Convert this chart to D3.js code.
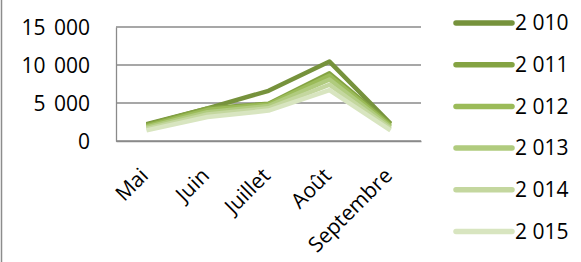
<!DOCTYPE html>
<html lang='fr'>
<head>
  <title>Line Chart</title>
  <script src='https://cdn.jsdelivr.net/npm/d3@7/dist/d3.min.js'></script>
  <style>
    body { margin: 0; background: #fff; }
    text { font-family: "Open Sans", "Noto Sans", sans-serif; fill: #000; }
  </style>
</head>
<body>
  <script>
    // months on the x axis
    let months = ["Mai", "Juin", "Juillet", "Août", "Septembre"];
    // one series per year
    let years = [2010, 2011, 2012, 2013, 2014, 2015];
    let v2010 = [2200, 4300, 6600, 10450, 2300];
    let v2011 = [2100, 4300, 4900, 8900, 2200];
    let v2012 = [1950, 4100, 4800, 8600, 2000];
    let v2013 = [1800, 3800, 4600, 8100, 1800];
    let v2014 = [1600, 3500, 4300, 7400, 1600];
    let v2015 = [1400, 3150, 4000, 6700, 1400];
    let yTicks = [0, 5000, 10000, 15000];
    let colors = ["#76923c", "#84a342", "#9bbb59", "#b0cb7e", "#c4d79f", "#d8e5c0"];

    let values = [v2010, v2011, v2012, v2013, v2014, v2015];
    let series = years.map((y, i) => ({ name: y, data: values[i] }));

    let margins = { left: 116, top: 27, right: 160, bottom: 121 };
    let width = 581 - margins.left - margins.right, height = 262 - margins.top - margins.bottom;

    let svg = d3.select("body").append("svg")
      .attr("width", 581)
      .attr("height", 262);

    // outer chart border (only left edge visible)
    svg.append("line")
      .attr("x1", 1.5).attr("x2", 1.5)
      .attr("y1", 0).attr("y2", 262)
      .attr("stroke", "#8c8c8c").attr("stroke-width", 1.5);

    let g = svg.append("g")
      .attr("transform", `translate(${margins.left}, ${margins.top})`);

    let xScale = d3.scaleBand().domain(months).range([0, width]);
    let yScale = d3.scaleLinear().domain([0, 15000]).range([height, 0]);

    let fr = d3.formatLocale({ decimal: ",", thousands: " ", grouping: [3], currency: ["", " €"] });

    // gridlines
    g.selectAll(".grid").data(yTicks).join("line")
      .attr("x1", 0).attr("x2", width)
      .attr("y1", d => yScale(d)).attr("y2", d => yScale(d))
      .attr("stroke", "#8a8a8a").attr("stroke-width", 1.3);

    // y axis
    let yAxis = d3.axisLeft(yScale).tickValues(yTicks).tickSize(0).tickPadding(0)
      .tickFormat(fr.format(",d"));
    let yAxisG = g.append("g").call(yAxis);
    yAxisG.select(".domain").attr("stroke", "#8a8a8a").attr("stroke-width", 1.3);
    yAxisG.selectAll("text")
      .attr("x", -26)
      .attr("dy", "0.35em")
      .style("font-size", "21px")
      .style("word-spacing", "3px")
      .attr("fill", "#000");

    // x axis
    let xAxis = d3.axisBottom(xScale).tickSize(0).tickPadding(0);
    let xAxisG = g.append("g")
      .attr("transform", `translate(0, ${height})`)
      .call(xAxis);
    xAxisG.select(".domain").attr("stroke", "#8a8a8a").attr("stroke-width", 1.3);
    xAxisG.selectAll("text")
      .style("font-size", "21px")
      .attr("text-anchor", "end")
      .attr("fill", "#000")
      .attr("dy", 0)
      .attr("y", 0)
      .attr("transform", "translate(3, 36) rotate(-45)");

    // lines
    let line = d3.line()
      .x((d, i) => xScale(months[i]) + xScale.bandwidth() / 2)
      .y(d => yScale(d));

    g.selectAll(".path").data(series).join("path")
      .attr("d", d => line(d.data))
      .attr("stroke", (d, i) => colors[i])
      .attr("stroke-width", 4.5)
      .attr("stroke-linejoin", "round")
      .attr("fill", "none");

    // legend
    let legend = svg.append("g")
      .attr("transform", "translate(456, 23)")
      .selectAll(".leg").data(series).join("g")
      .attr("transform", (d, i) => `translate(0, ${i * 41.7})`);
    legend.append("line")
      .attr("x1", 0).attr("x2", 56)
      .attr("y1", 0).attr("y2", 0)
      .attr("stroke", (d, i) => colors[i])
      .attr("stroke-width", 5.5)
      .attr("stroke-linecap", "round");
    legend.append("text")
      .text(d => fr.format(",d")(d.name))
      .attr("x", 59)
      .attr("dy", "0.35em")
      .style("font-size", "21px");
  </script>
</body>
</html>
